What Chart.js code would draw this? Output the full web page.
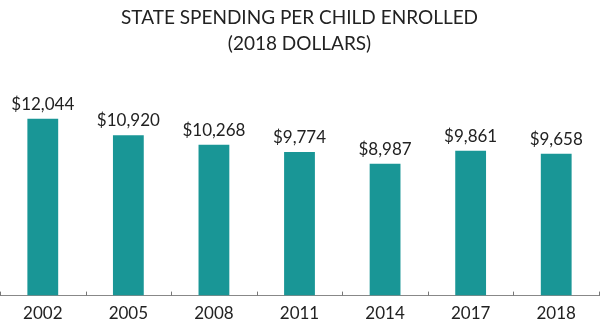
<!DOCTYPE html>
<html><head><meta charset="utf-8">
<script src="https://cdn.jsdelivr.net/npm/chart.js@4/dist/chart.umd.min.js"></script>
<style>html,body{margin:0;padding:0;background:#fff}#wrap{width:600px;height:336px}</style>
</head><body><div id="wrap"><canvas id="c" width="600" height="336"></canvas></div>
<script>
const years = ["2002","2005","2008","2011","2014","2017","2018"];
const spending = [12044, 10920, 10268, 9774, 8987, 9861, 9658];
const titleLines = ["STATE SPENDING PER CHILD ENROLLED", "(2018 DOLLARS)"];

const FONT = "Lato, 'Open Sans', sans-serif";

const labelPlugin = {
  id: 'barLabels',
  afterDatasetsDraw(chart) {
    const ctx = chart.ctx;
    const meta = chart.getDatasetMeta(0);
    ctx.save();
    ctx.font = "17px " + FONT;
    ctx.fillStyle = "#222";
    ctx.textAlign = "center";
    ctx.textBaseline = "bottom";
    meta.data.forEach((bar, i) => {
      ctx.fillText("$" + spending[i].toLocaleString("en-US"), bar.x, bar.y - 6);
    });
    ctx.restore();
  }
};

const tickPlugin = {
  id: 'sepTicks',
  afterDraw(chart) {
    const ctx = chart.ctx;
    const x = chart.scales.x;
    const bottom = chart.chartArea.bottom;
    ctx.save();
    ctx.strokeStyle = "#777";
    ctx.lineWidth = 1;
    ctx.beginPath();
    for (let i = 0; i <= years.length; i++) {
      const px = Math.round(x.getPixelForValue(i - 0.5)) + 0.5;
      ctx.moveTo(px, bottom - 4);
      ctx.lineTo(px, bottom);
    }
    ctx.stroke();
    ctx.restore();
  }
};

new Chart(document.getElementById('c'), {
  type: 'bar',
  data: {
    labels: years,
    datasets: [{
      data: spending,
      backgroundColor: "#199696",
      borderWidth: 0,
      categoryPercentage: 0.36,
      barPercentage: 1.0
    }]
  },
  options: {
    responsive: false,
    animation: false,
    layout: { padding: { left: 0, right: 1, top: 5, bottom: 4 } },
    plugins: {
      legend: { display: false },
      tooltip: { enabled: false },
      title: {
        display: true,
        text: titleLines,
        color: "#222",
        font: { family: FONT, size: 19, weight: 'normal', lineHeight: 1.37 },
        padding: { top: 0, bottom: 22 }
      }
    },
    scales: {
      y: { display: false, min: 0, max: 14750 },
      x: {
        offset: true,
        grid: { display: false, drawTicks: false },
        border: { display: true, color: "#888", width: 1 },
        ticks: { color: "#222", font: { family: FONT, size: 17 }, padding: 8 }
      }
    }
  },
  plugins: [labelPlugin, tickPlugin]
});
</script></body></html>
